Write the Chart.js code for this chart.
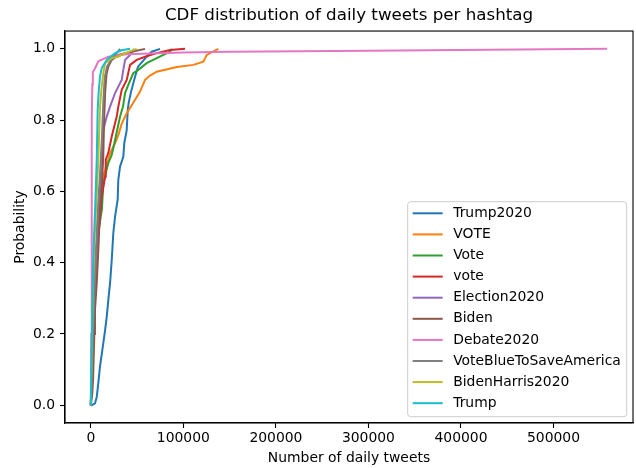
<!DOCTYPE html>
<html>
<head>
<meta charset="utf-8">
<script src="https://cdn.jsdelivr.net/npm/chart.js@4.4.1/dist/chart.umd.min.js"></script>
<style>
html, body { margin: 0; padding: 0; background: #fff; }
</style>
</head>
<body>
<canvas id="myChart" width="636" height="468"></canvas>
<script>
// hashtag names (legend order = plot order)
var hashtags = ['Trump2020', 'VOTE', 'Vote', 'vote', 'Election2020', 'Biden',
                'Debate2020', 'VoteBlueToSaveAmerica', 'BidenHarris2020', 'Trump'];

// CDF points: [daily tweets, probability]
var trump2020 = [[0,0],[1000,0],[4500,0.005],[6400,0.023],[8100,0.062],[9900,0.108],[13500,0.174],
  [15400,0.21],[17200,0.248],[18900,0.295],[20800,0.343],[22600,0.407],[24300,0.483],[26200,0.529],
  [29000,0.576],[29700,0.632],[31600,0.67],[35100,0.697],[36200,0.736],[38800,0.772],[39900,0.829],
  [41000,0.85],[43500,0.88],[47800,0.922],[51000,0.95],[56000,0.965],[60400,0.978],[65800,0.992],[74800,1.0]];
var voteUpper = [[0,0],[1500,0.1],[3500,0.25],[5500,0.4],[8000,0.52],[10500,0.6],[13000,0.64],
  [15500,0.66],[17500,0.68],[19700,0.695],[21000,0.708],[26200,0.735],[30000,0.76],[33400,0.79],
  [38800,0.819],[45000,0.845],[53200,0.88],[58600,0.913],[64000,0.925],[71200,0.936],[92900,0.949],
  [110800,0.955],[121600,0.964],[125300,0.983],[137800,1.0]];
var voteTitle = [[0,0],[1500,0.12],[3500,0.27],[5600,0.435],[9000,0.5],[12000,0.55],[13500,0.623],
  [16000,0.65],[18900,0.679],[22600,0.702],[26200,0.744],[31600,0.81],[34800,0.838],[37000,0.876],
  [40500,0.899],[45900,0.932],[51300,0.941],[60400,0.96],[71200,0.974],[78400,0.983],[85600,0.992],[87500,1.0]];
var voteLower = [[0,0],[1500,0.12],[3500,0.27],[6000,0.435],[9000,0.5],[11800,0.585],[15400,0.641],
  [16100,0.688],[18900,0.708],[22600,0.754],[28000,0.81],[29700,0.838],[33400,0.885],[38800,0.913],
  [42400,0.955],[49600,0.969],[58600,0.978],[71200,0.988],[85600,0.997],[101800,1.0]];
var election2020 = [[0,0],[1200,0.12],[3000,0.27],[6000,0.435],[7500,0.5],[8900,0.548],[10500,0.62],
  [12000,0.69],[13500,0.772],[17200,0.81],[20800,0.838],[26200,0.876],[29700,0.894],[33400,0.913],
  [35100,0.941],[37000,0.969],[40500,0.978],[43500,0.986],[47000,1.0]];
var biden = [[0,0],[1500,0.03],[2400,0.07],[3800,0.2],[4500,0.267],[6400,0.343],[8100,0.435],
  [9900,0.548],[12000,0.62],[13500,0.7],[14300,0.8],[15500,0.88],[17000,0.93],[18900,0.95],
  [22600,0.969],[29700,0.983],[44200,0.992],[58600,1.0]];
var debate2020 = [[0,0],[500,0.2],[900,0.5],[1100,0.8],[1600,0.9],[2200,0.935],[4500,0.945],
  [8100,0.965],[18900,0.978],[38800,0.985],[100000,0.99],[150000,0.992],[300000,0.995],[558000,1.0]];
var voteBlue = [[0,0],[1200,0.1],[3000,0.25],[5000,0.4],[7500,0.55],[10000,0.65],[12000,0.75],
  [13500,0.85],[15000,0.92],[17500,0.95],[22000,0.97],[27000,0.985],[31600,1.0]];
var bidenHarris2020 = [[0,0],[800,0.15],[2000,0.3],[3500,0.435],[5600,0.548],[8100,0.688],[9900,0.838],
  [11800,0.894],[13500,0.932],[15400,0.96],[22600,0.974],[29700,0.978],[37000,0.988],[49600,1.0]];
var trump = [[0,0],[500,0.1],[1500,0.25],[2900,0.435],[4600,0.548],[6400,0.688],[7400,0.83],
  [8500,0.88],[9900,0.922],[11800,0.946],[17200,0.969],[26200,0.988],[33400,0.996],[42400,1.0]];

var cdfSeries = [trump2020, voteUpper, voteTitle, voteLower, election2020, biden,
                 debate2020, voteBlue, bidenHarris2020, trump];

var xTicks = [0, 100000, 200000, 300000, 400000, 500000];
var yTicks = [0.0, 0.2, 0.4, 0.6, 0.8, 1.0];

// matplotlib tab10
var colors = ['#1f77b4', '#ff7f0e', '#2ca02c', '#d62728', '#9467bd',
              '#8c564b', '#e377c2', '#7f7f7f', '#bcbd22', '#17becf'];

var FONT = 'DejaVu Sans';
Chart.defaults.color = '#000';
Chart.defaults.font.family = FONT;

var datasets = [];
for (var i = 0; i < hashtags.length; i++) {
    datasets.push({
        label: hashtags[i],
        data: cdfSeries[i].map(function (p) { return {x: p[0], y: p[1]}; }),
        showLine: true,
        borderColor: colors[i],
        backgroundColor: colors[i],
        borderWidth: 2,
        pointRadius: 0,
        tension: 0,
        order: hashtags.length - i // later series on top, like matplotlib
    });
}

// full box around the axes
const axesFrame = {
    id: 'axesFrame',
    afterDatasetsDraw(chart) {
        const {ctx, chartArea: {left, top, right, bottom}} = chart;
        ctx.save();
        ctx.strokeStyle = '#000';
        ctx.lineWidth = 1.1;
        ctx.strokeRect(left, top, right - left, bottom - top);
        ctx.restore();
    }
};

// legend in the lower right corner of the axes
const cornerLegend = {
    id: 'cornerLegend',
    afterDraw(chart) {
        const {ctx, chartArea} = chart;
        const sets = chart.data.datasets;
        const boxW = 219, boxH = 215, rowH = 21.1;
        const x0 = chartArea.right - 6.3 - boxW;
        const y0 = chartArea.bottom - 6.3 - boxH;
        ctx.save();
        ctx.beginPath();
        ctx.roundRect(x0, y0, boxW, boxH, 3);
        ctx.fillStyle = 'rgba(255,255,255,0.8)';
        ctx.fill();
        ctx.strokeStyle = '#cccccc';
        ctx.lineWidth = 1;
        ctx.stroke();
        ctx.font = '13.9px "' + FONT + '"';
        ctx.textBaseline = 'middle';
        ctx.textAlign = 'left';
        for (let i = 0; i < sets.length; i++) {
            const y = y0 + 11.6 + i * rowH;
            ctx.strokeStyle = sets[i].borderColor;
            ctx.lineWidth = 2;
            ctx.beginPath();
            ctx.moveTo(x0 + 5, y);
            ctx.lineTo(x0 + 35, y);
            ctx.stroke();
            ctx.fillStyle = '#000';
            ctx.fillText(sets[i].label, x0 + 45.5, y);
        }
        ctx.restore();
    }
};

const config = {
    type: 'scatter',
    data: { datasets: datasets },
    plugins: [axesFrame, cornerLegend],
    options: {
        responsive: false,
        animation: false,
        layout: { padding: { left: 0, right: 3, top: 0, bottom: 0 } },
        plugins: {
            legend: { display: false },
            tooltip: { enabled: false },
            title: {
                display: true,
                text: 'CDF distribution of daily tweets per hashtag',
                fullSize: false,
                color: '#000',
                font: { family: FONT, size: 16.7, weight: 'normal' },
                padding: { top: 6, bottom: 5 }
            }
        },
        scales: {
            x: {
                type: 'linear',
                min: -27900,
                max: 585900,
                afterBuildTicks: function (axis) {
                    axis.ticks = xTicks.map(function (v) { return {value: v}; });
                },
                afterFit: function (scale) { scale.height = 45; },
                ticks: {
                    font: { size: 13.9 },
                    padding: 2,
                    maxRotation: 0,
                    callback: function (v) { return String(v); }
                },
                grid: { drawOnChartArea: false, drawTicks: true, tickLength: 5, tickColor: '#000', tickWidth: 1.1 },
                border: { display: true, color: '#000', width: 1.1 },
                title: {
                    display: true,
                    text: 'Number of daily tweets',
                    font: { size: 13.9 },
                    padding: { top: 0, bottom: 1 }
                }
            },
            y: {
                type: 'linear',
                min: -0.05,
                max: 1.05,
                afterBuildTicks: function (axis) {
                    axis.ticks = yTicks.map(function (v) { return {value: v}; });
                },
                afterFit: function (scale) { scale.width = 65; },
                ticks: {
                    font: { size: 13.9 },
                    padding: 5,
                    callback: function (v) { return v.toFixed(1); }
                },
                grid: { drawOnChartArea: false, drawTicks: true, tickLength: 5, tickColor: '#000', tickWidth: 1.1 },
                border: { display: true, color: '#000', width: 1.1 },
                title: {
                    display: true,
                    text: 'Probability',
                    font: { size: 13.9 },
                    padding: { top: 12, bottom: 0 }
                }
            }
        }
    }
};

var myChart = new Chart(document.getElementById('myChart'), config);
</script>
</body>
</html>
